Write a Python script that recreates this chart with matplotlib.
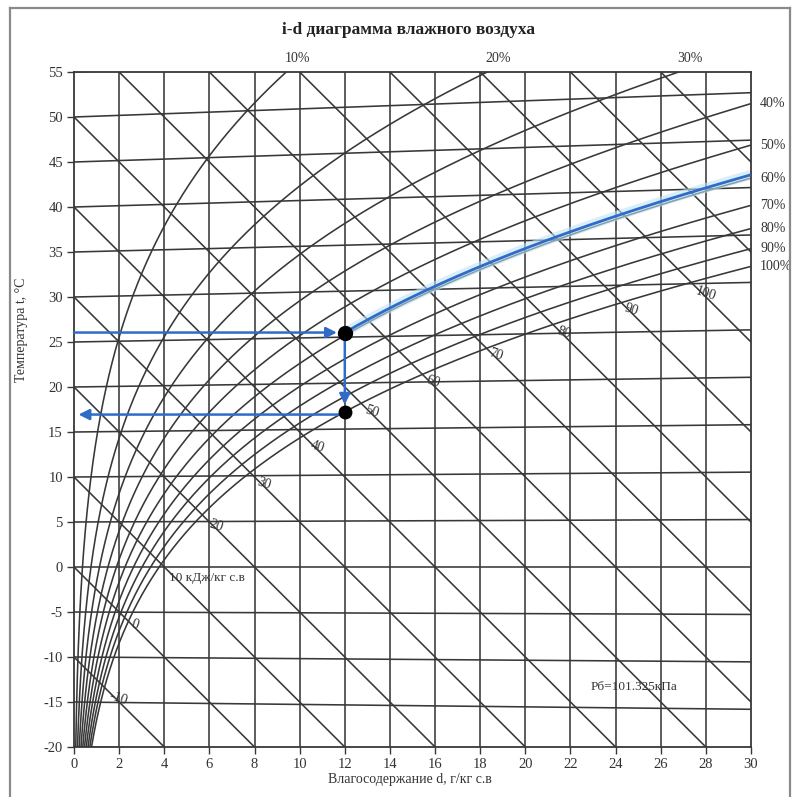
import numpy as np
import matplotlib
matplotlib.use("Agg")
import matplotlib.pyplot as plt
from matplotlib.lines import Line2D

# ---------------- data ----------------
P_baro = 101.325                      # kPa
d_ticks = list(range(0, 31, 2))       # g/kg
t_isotherms = list(range(-20, 56, 5)) # degC
phi_values = [0.1, 0.2, 0.3, 0.4, 0.5, 0.6, 0.7, 0.8, 0.9, 1.0]
phi_labels = ["10%", "20%", "30%", "40%", "50%", "60%", "70%", "80%", "90%", "100%"]
enthalpy_values = list(range(-20, 131, 10))          # kJ/kg
enth_label_values = [-10, 0, 20, 30, 40, 50, 60, 70, 80, 90, 100]
enth_label_d = [1.96, 2.7, 6.3, 8.4, 10.8, 13.2, 15.9, 18.7, 21.7, 24.7, 28.0]
process_d = 12.0
process_t1 = 25.5

# ---------------- physics helpers ----------------
def p_sat(t):
    return 0.6112 * np.exp(17.62 * t / (243.12 + t))

def d_of(t, phi):
    ps = phi * p_sat(t)
    return 622.0 * ps / (P_baro - ps)

def y_of(t, d):
    return t * (1.0 + 0.0018 * d)

def t_sat_at_d(d):
    tt = np.linspace(-30, 60, 20001)
    return np.interp(d, d_of(tt, 1.0), tt)

# ---------------- figure ----------------
plt.rcParams['font.family'] = ['Liberation Serif', 'DejaVu Serif']
plt.rcParams['axes.unicode_minus'] = False
W = 797
fig = plt.figure(figsize=(7.97, 7.97), dpi=100)
ax = fig.add_axes([74 / W, 1 - 747 / W, (751 - 74) / W, (747 - 72) / W])
ax.set_xlim(0, 30)
ax.set_ylim(-20, 55)

lc = '#383838'
lw = 1.15

# vertical d lines
for d in d_ticks[1:-1]:
    ax.axvline(d, color=lc, lw=lw, zorder=1)

# isotherms
dd = np.array([0.0, 30.0])
for t in t_isotherms:
    ax.plot(dd, y_of(t, dd), color=lc, lw=lw, zorder=1)

# enthalpy lines
for i in enthalpy_values:
    ax.plot(dd, i - 2.5 * dd, color=lc, lw=lw, zorder=1)

# relative humidity curves
tt = np.linspace(-20, 95, 3000)
curves = {}
for phi in phi_values:
    d = d_of(tt, phi)
    y = y_of(tt, d)
    m = d <= 40
    curves[phi] = (d[m], y[m])
    ax.plot(d[m], y[m], color=lc, lw=lw, zorder=1)

# humidity labels
for phi, lab in zip(phi_values, phi_labels):
    d, y = curves[phi]
    if phi <= 0.3:
        dtop = np.interp(55, y, d)
        ax.text(dtop + 0.5, 55.8, lab, ha='center', va='bottom', fontsize=10, color='#333')
    else:
        yr = np.interp(30, d, y)
        ax.text(30.4, yr, lab, ha='left', va='center', fontsize=10, color='#333',
                clip_on=False)

# enthalpy labels
for i, dl in zip(enth_label_values, enth_label_d):
    ax.text(dl, i - 2.5 * dl + 0.3, str(i), ha='center', va='center', fontsize=10,
            color='#333', rotation=-18)
ax.text(4.2, -1.2, "10 кДж/кг с.в", ha='left', va='center', fontsize=9.5, color='#333')

ax.text(22.9, -13.3, "Рб=101.325кПа", ha='left', va='center', fontsize=9.5, color='#333')

# ---------------- process ----------------
blue = '#2e6cc8'
y1 = y_of(process_t1, process_d)
ps_needed = process_d * P_baro / (622.0 + process_d)
phi1 = ps_needed / p_sat(process_t1)
tb = np.linspace(process_t1, 60, 800)
db = d_of(tb, phi1)
yb = y_of(tb, db)
mb = db <= 30.0
ax.plot(db[mb], yb[mb], color='#bfe3f7', lw=7, alpha=0.6, zorder=2, solid_capstyle='round')
ax.plot(db[mb], yb[mb], color=blue, lw=2.0, zorder=3)

t2 = t_sat_at_d(process_d)
y2 = y_of(t2, process_d)

arrow_kw = dict(arrowstyle='-|>', color=blue, lw=1.8, mutation_scale=16,
                shrinkA=0, shrinkB=0)
ax.annotate('', xy=(process_d - 0.35, y1), xytext=(0, y1), arrowprops=arrow_kw, zorder=4)
ax.annotate('', xy=(process_d, y2 + 0.8), xytext=(process_d, y1), arrowprops=arrow_kw, zorder=4)
ax.annotate('', xy=(0.2, y2 - 0.3), xytext=(process_d, y2 - 0.3), arrowprops=arrow_kw, zorder=4)
ax.plot([process_d], [y1], 'o', color='black', ms=10, zorder=5)
ax.plot([process_d], [y2], 'o', color='black', ms=9, zorder=5)

# ---------------- axes styling ----------------
for s in ax.spines.values():
    s.set_color(lc)
    s.set_linewidth(1.3)
ax.set_xticks(d_ticks)
ax.set_yticks(t_isotherms)
ax.tick_params(direction='out', length=5, width=1, color=lc, labelsize=10.5,
               labelcolor='#333', pad=3)

fig.text(409 / W, 1 - 30 / W, "i-d диаграмма влажного воздуха", ha='center', va='center',
         fontsize=12.5, fontweight='bold', color='#222')
fig.text(22 / W, 1 - 330 / W, "Температура t, °C", rotation=90, ha='center', va='center',
         fontsize=10, color='#333')
fig.text(410 / W, 1 - 780 / W, "Влагосодержание d, г/кг с.в", ha='center', va='center',
         fontsize=10, color='#333')

# outer frame
for xs, ys in [((10, 10), (8, 797)), ((10, 790), (8, 8)), ((790, 790), (8, 797))]:
    fig.add_artist(Line2D([x / W for x in xs], [1 - y / W for y in ys], color='#8a8a8a',
                          lw=1.6, transform=fig.transFigure))

fig.savefig("out.png", dpi=100, facecolor='white')
